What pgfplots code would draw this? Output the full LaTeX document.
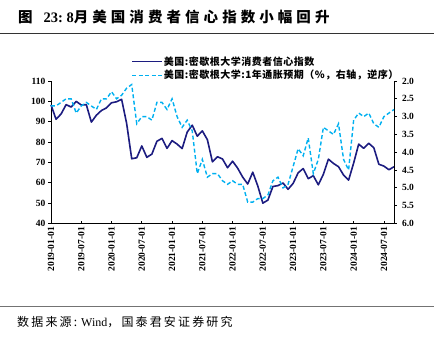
\documentclass[border=0pt]{standalone}
\usepackage{pgfplots}
\pgfplotsset{compat=1.18}
\usepackage{pgfplotstable}
\usepackage{fontspec}
\setmainfont{Liberation Serif}
\newfontfamily\cjk{Noto Sans CJK SC}
\definecolor{navy}{RGB}{28,28,128}
\definecolor{lblue}{RGB}{0,176,240}

% x: 0 = Dec 2018 (month end), 68 = Aug 2024
\pgfplotstableread{
x y
0 98.3
1 91.2
2 93.8
3 98.4
4 97.2
5 100.0
6 98.2
7 98.4
8 89.8
9 93.2
10 95.5
11 96.8
12 99.3
13 99.8
14 101.0
15 89.1
16 71.8
17 72.3
18 78.1
19 72.5
20 74.1
21 80.4
22 81.8
23 76.9
24 80.7
25 79.0
26 76.8
27 84.9
28 88.3
29 82.9
30 85.5
31 81.2
32 70.3
33 72.8
34 71.7
35 67.4
36 70.6
37 67.2
38 62.8
39 59.4
40 65.2
41 58.4
42 50.0
43 51.5
44 58.2
45 58.6
46 59.9
47 56.8
48 59.7
49 64.9
50 67.0
51 62.0
52 63.5
53 59.0
54 64.2
55 71.6
56 69.5
57 67.9
58 63.8
59 61.3
60 69.7
61 79.0
62 76.9
63 79.4
64 77.2
65 69.1
66 68.2
67 66.4
68 67.9
}\sentiment

\pgfplotstableread{
x y
0 2.7
1 2.7
2 2.6
3 2.5
4 2.5
5 2.9
6 2.7
7 2.6
8 2.7
9 2.8
10 2.5
11 2.5
12 2.3
13 2.5
14 2.4
15 2.2
16 2.1
17 3.2
18 3.0
19 3.0
20 3.1
21 2.6
22 2.6
23 2.8
24 2.5
25 3.0
26 3.3
27 3.1
28 3.4
29 4.6
30 4.2
31 4.7
32 4.6
33 4.6
34 4.8
35 4.9
36 4.8
37 4.9
38 4.9
39 5.4
40 5.4
41 5.3
42 5.3
43 5.2
44 4.8
45 4.7
46 5.0
47 4.9
48 4.4
49 3.9
50 4.1
51 3.6
52 4.6
53 4.2
54 3.3
55 3.4
56 3.5
57 3.2
58 4.2
59 4.5
60 3.1
61 2.9
62 3.0
63 2.9
64 3.2
65 3.3
66 3.0
67 2.9
68 2.8
}\inflation

\begin{document}
\begin{tikzpicture}
\path[use as bounding box] (-51pt,-113.5pt) rectangle (383pt,223.5pt);

% title and rules
\node[anchor=west,inner sep=0pt] at (-33pt,207pt)
  {\fontsize{14.5}{16}\selectfont{\cjk\bfseries 图}\ \ \ \textbf{23:}\ \textbf{8}{\cjk\bfseries\addfontfeatures{LetterSpace=28}月美国消费者信心指数小幅回升}};
\draw[line width=1pt,black!80] (-51pt,190pt) -- (383pt,190pt);
\draw[line width=0.8pt,black!55] (-51pt,-82.5pt) -- (383pt,-82.5pt);
\node[anchor=west,inner sep=0pt] at (-34pt,-98.5pt)
  {\fontsize{12}{14}\selectfont{\cjk\addfontfeatures{LetterSpace=18}数据来源:} Wind{\cjk\addfontfeatures{LetterSpace=18}，国泰君安证券研究}};

\begin{axis}[
  at={(0pt,0pt)}, anchor=south west,
  scale only axis, width=343pt, height=142.5pt,
  xmin=0, xmax=68, ymin=40, ymax=110,
  axis x line*=bottom, axis y line*=left,
  axis line style={line width=0.8pt,black},
  tick align=inside, major tick length=2.5pt,
  tick style={line width=0.8pt,black},
  ytick style={xshift=-2.5pt},
  xtick={0,6,...,66},
  xticklabels={2019-01-01,2019-07-01,2020-01-01,2020-07-01,2021-01-01,2021-07-01,2022-01-01,2022-07-01,2023-01-01,2023-07-01,2024-01-01,2024-07-01},
  xticklabel style={rotate=90,anchor=east,font=\fontsize{9.5}{10}\selectfont\bfseries},
  ytick={40,50,...,110},
  yticklabel style={font=\fontsize{9.5}{10}\selectfont\bfseries,xshift=-2pt},
  /pgf/number format/assume math mode=true,
  legend style={at={(0.2245,1.195)},anchor=north west,draw=none,fill=none,
    font=\cjk\bfseries\fontsize{10}{11}\selectfont\addfontfeatures{LetterSpace=5},row sep=1.5pt,
    nodes={inner sep=1pt}},
  legend cell align=left,
  legend image code/.code={\draw[#1] (0pt,0pt) -- (30pt,0pt);},
  clip=false,
]
\addplot[navy,line width=1.6pt,line join=round] table[x=x,y=y] {\sentiment};
\addlegendentry{美国:密歇根大学消费者信心指数}
\addlegendimage{lblue,line width=1.4pt,dash pattern=on 4pt off 2.5pt}
\addlegendentry{美国:密歇根大学:1年通胀预期（\%，右轴，逆序）}
\end{axis}

\begin{axis}[
  at={(0pt,0pt)}, anchor=south west,
  scale only axis, width=343pt, height=142.5pt,
  xmin=0, xmax=68, ymin=2, ymax=6, y dir=reverse,
  axis x line=none, axis y line*=right,
  axis line style={line width=0.8pt,black},
  tick align=outside, major tick length=2.5pt,
  tick style={line width=0.8pt,black},
  ytick={2,2.5,...,6},
  yticklabel style={font=\fontsize{9.5}{10}\selectfont\bfseries,xshift=2pt,
    /pgf/number format/.cd,fixed,fixed zerofill,precision=1},
  /pgf/number format/assume math mode=true,
]
\addplot[lblue,line width=1.4pt,dash pattern=on 4pt off 2.5pt] table[x=x,y=y] {\inflation};
\end{axis}
\end{tikzpicture}
\end{document}
